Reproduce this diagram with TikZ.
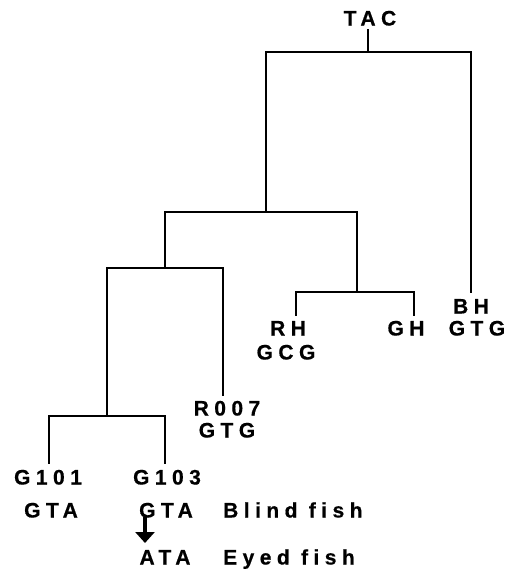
\documentclass[tikz,border=0pt]{standalone}
\usepackage{fontspec}
\setmainfont{Liberation Sans}
\newfontfamily\labfont[LetterSpace=26,FakeBold=0.6]{Liberation Sans Bold}
\usetikzlibrary{arrows.meta}
\tikzset{
  lab/.style={inner sep=0pt, font=\labfont\fontsize{21}{23}\selectfont, text height=15pt, text depth=0pt, anchor=center},
  branch/.style={line width=1.3pt, line cap=rect},
  mutarrow/.style={line width=4pt, -{Triangle[width=19pt,length=11pt]}}
}
\begin{document}
\begin{tikzpicture}[x=1pt,y=-1pt]
\useasboundingbox (0,0) rectangle (511,570);
% labels
\node[lab] (TAC) at (370,18) {TAC};
\node[lab] (BH) at (471,306) {BH};
\node[lab] (BHs) at (477,328) {GTG};
\node[lab] (RH) at (288,328) {RH};
\node[lab] (RHs) at (286,352) {GCG};
\node[lab] (GH) at (406,328) {GH};
\node[lab] (R007) at (227,408) {R007};
\node[lab] (R007s) at (227,430) {GTG};
\node[lab] (G101) at (48,477) {G101};
\node[lab] (G101s) at (51,510) {GTA};
\node[lab] (G103) at (167,477) {G103};
\node[lab] (G103s) at (166,510) {GTA};
\node[lab, anchor=west] (blind) at (223,510) {Blind fish};
\node[lab] (ATA) at (165,557) {ATA};
\node[lab, anchor=west] (eyed) at (223,557) {Eyed fish};
% internal junctions
\coordinate (root) at (368,52);
\coordinate (ja) at (266,212);
\coordinate (jc) at (357,292);
\coordinate (jb) at (165,268);
\coordinate (jd) at (107,416);
% leaf ends
\coordinate (eBH) at (471,292);
\coordinate (eRH) at (296,315);
\coordinate (eGH) at (414,315);
\coordinate (eR007) at (223,395);
\coordinate (eG101) at (49,463);
\coordinate (eG103) at (165,463);
% tree
\draw[branch] (root) -- (368,30);
\draw[branch] (root) -| (ja);
\draw[branch] (root) -| (eBH);
\draw[branch] (ja) -| (jb);
\draw[branch] (ja) -| (jc);
\draw[branch] (jc) -| (eRH);
\draw[branch] (jc) -| (eGH);
\draw[branch] (jb) -| (jd);
\draw[branch] (jb) -| (eR007);
\draw[branch] (jd) -| (eG101);
\draw[branch] (jd) -| (eG103);
% mutation arrow
\coordinate (as) at (145,517);
\coordinate (ae) at (145,543);
\draw[mutarrow] (as) -- (ae);
\end{tikzpicture}
\end{document}
